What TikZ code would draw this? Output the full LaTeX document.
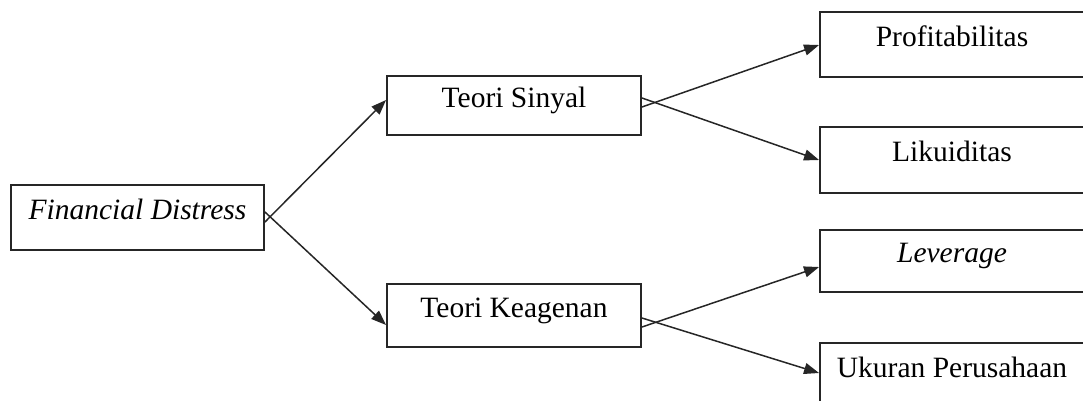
\documentclass[tikz,border=0pt]{standalone}
\usepackage{fontspec}
\setmainfont{Liberation Serif}
\usetikzlibrary{arrows.meta}
\begin{document}
\begin{tikzpicture}[x=1pt,y=1pt,
  box/.style={draw=black!85, line width=1.9pt, fill=white, inner sep=0pt,
    text height=19pt, text depth=16pt, font=\fontsize{29.5}{33}\selectfont},
  arr/.style={draw=black!85, line width=1.5pt, -{Triangle[length=15pt,width=11pt]}}]
\useasboundingbox (0,0) rectangle (1083,400);
\clip (0,0) rectangle (1083,400);
\node[box, minimum width=253pt, minimum height=65pt] (fd) at (137.5,182.5) {\itshape Financial Distress};
\node[box, minimum width=254pt, minimum height=59pt] (ts) at (514,294.5) {Teori Sinyal};
\node[box, minimum width=254pt, minimum height=63pt] (tk) at (514,84.5) {Teori Keagenan};
\node[box, minimum width=264pt, minimum height=65pt] (pr) at (952,355.5) {Profitabilitas};
\node[box, minimum width=264pt, minimum height=66pt] (lk) at (952,240) {Likuiditas};
\node[box, minimum width=264pt, minimum height=62pt] (lv) at (952,139) {\itshape Leverage};
\node[box, minimum width=264pt, minimum height=65pt] (uk) at (952,24.5) {Ukuran Perusahaan};
\draw[arr] ([yshift=-4.5pt]fd.east) -- ([yshift=5.5pt]ts.west);
\draw[arr] ([yshift=5.5pt]fd.east) -- ([yshift=-9.5pt]tk.west);
\draw[arr] ([yshift=-1.5pt]ts.east) -- ([yshift=-0.5pt]pr.west);
\draw[arr] ([yshift=7.5pt]ts.east) -- (lk.west);
\draw[arr] ([yshift=-11.5pt]tk.east) -- ([yshift=-6pt]lv.west);
\draw[arr] ([yshift=-2.5pt]tk.east) -- ([yshift=2.5pt]uk.west);
\end{tikzpicture}
\end{document}
